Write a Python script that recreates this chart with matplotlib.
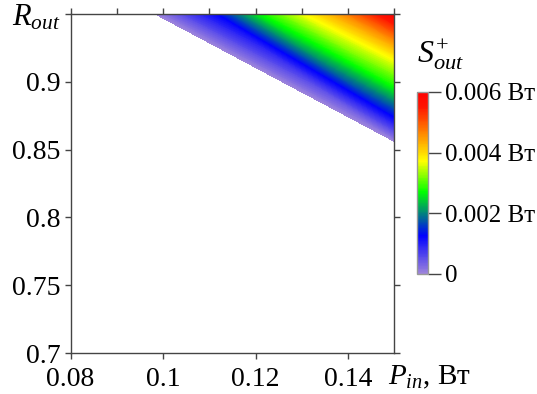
import numpy as np
import matplotlib
matplotlib.use('Agg')
import matplotlib.pyplot as plt
import matplotlib.tri as mtri
from matplotlib.colors import LinearSegmentedColormap

plt.rcParams['font.family'] = ['Liberation Serif', 'DejaVu Serif']
plt.rcParams['mathtext.fontset'] = 'custom'
plt.rcParams['mathtext.rm'] = 'Liberation Serif'
plt.rcParams['mathtext.it'] = 'Liberation Serif:italic'

# levels of S_out^+ (W) and where each level crosses the top edge (R_out = 0.95)
# and the right edge (P_in = 0.15)
s_levels = [0.0, 0.00126, 0.0027, 0.0037, 0.0045]
p_top = [0.0983, 0.1118, 0.1212, 0.1305, 0.1382]
r_right = [0.856, 0.874, 0.896, 0.916, 0.929]
s_corner = 0.006  # at P_in = 0.15, R_out = 0.95
p_max, r_max = 0.15, 0.95

x_ticks = [0.08, 0.1, 0.12, 0.14]
y_ticks = [0.7, 0.75, 0.8, 0.85, 0.9]
cb_ticks = [0, 0.002, 0.004, 0.006]
cb_labels = ['0', '0.002 Вт', '0.004 Вт', '0.006 Вт']

n = len(s_levels)
pts_p = np.array(p_top + [p_max] * n + [p_max])
pts_r = np.array([r_max] * n + r_right + [r_max])
pts_s = np.array(s_levels + s_levels + [s_corner])

# strip of triangles between consecutive iso-lines (top point i <-> right point i)
triangles = []
for i in range(n - 1):
    triangles.append([i, i + 1, n + i])
    triangles.append([i + 1, n + i + 1, n + i])
triangles.append([n - 1, 2 * n, 2 * n - 1])

cmap = LinearSegmentedColormap.from_list('rainbowish', [
    (0.0, (0.62, 0.52, 0.86)),
    (0.21, (0.0, 0.0, 1.0)),
    (0.45, (0.0, 1.0, 0.0)),
    (0.62, (1.0, 1.0, 0.0)),
    (0.92, (1.0, 0.08, 0.0)),
    (1.0, (1.0, 0.0, 0.0)),
])

fig = plt.figure(figsize=(5.37, 3.94), dpi=100)
ax = fig.add_axes([0.1313, 0.104, 0.6033, 0.8605])

tri = mtri.Triangulation(pts_p, pts_r, triangles)
cf = ax.tricontourf(tri, pts_s, levels=np.linspace(0, 0.006, 241), cmap=cmap,
                    vmin=0, vmax=0.006, antialiased=False)

ax.set_xlim(0.08, 0.15)
ax.set_ylim(0.7, 0.95)

spine_col = '#444444'
for s in ax.spines.values():
    s.set_color(spine_col)
    s.set_linewidth(1.0)

ax.set_xticks(x_ticks)
ax.set_xticklabels(['0.08', '0.1', '0.12', '0.14'])
ax.set_yticks(y_ticks + [0.95])
ax.set_yticklabels(['0.7', '0.75', '0.8', '0.85', '0.9', ''])
ax.tick_params(direction='out', length=4, width=1, color=spine_col, labelsize=20, pad=3)
ax.tick_params(axis='x', pad=6)

top = ax.secondary_xaxis('top')
top.set_xticks(np.arange(0.08, 0.1501, 0.01))
top.set_xticklabels([])
top.tick_params(direction='out', length=4, width=1, color=spine_col)
top.spines['top'].set_visible(False)

right = ax.secondary_yaxis('right')
right.set_yticks(y_ticks + [0.95])
right.set_yticklabels([])
right.tick_params(direction='out', length=4, width=1, color=spine_col)
right.spines['right'].set_visible(False)

fig.text(0.022, 0.992, '$R_{out}$', fontsize=22, va='top', ha='left')
fig.text(0.722, 0.043, '$P_{in}$, Вт', fontsize=21, va='center', ha='left')

cax = fig.add_axes([0.7765, 0.3046, 0.0205, 0.462])
cb = fig.colorbar(cf, cax=cax, ticks=cb_ticks)
cb.set_ticklabels(cb_labels)
cb.outline.set_edgecolor('#999999')
cb.outline.set_linewidth(1.0)
cax.tick_params(length=9, width=1, color=spine_col, labelsize=18, pad=3)
fig.text(0.82, 0.86, '$S^{+}_{out}$', fontsize=23, va='center', ha='center')

fig.savefig('out.png', dpi=100)
